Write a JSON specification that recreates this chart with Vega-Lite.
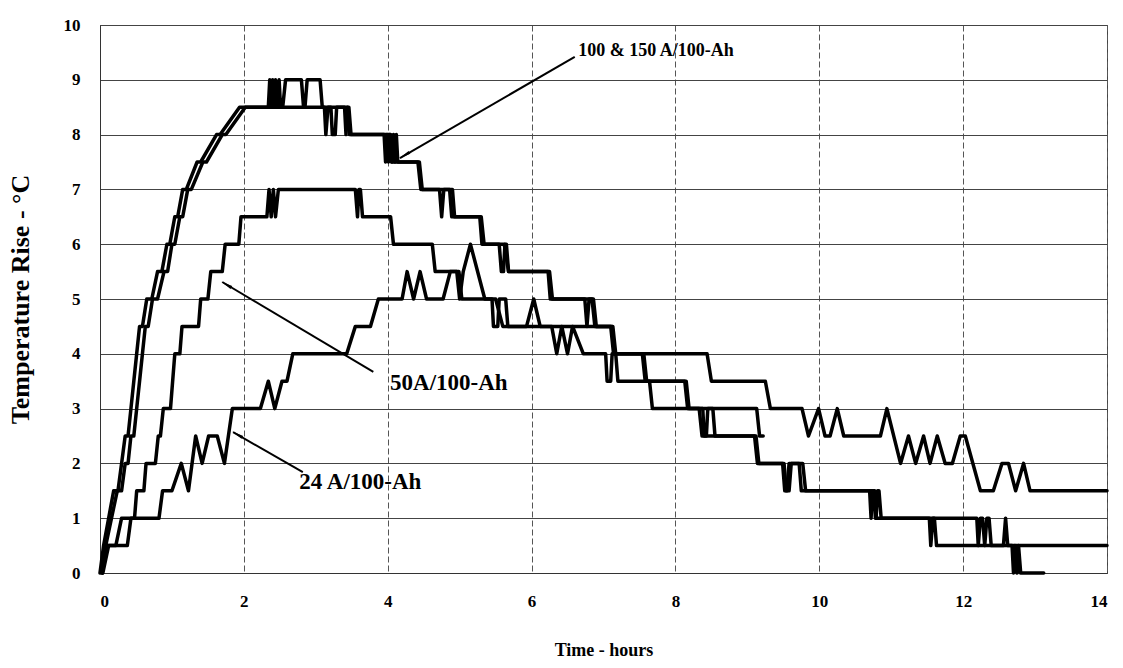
{
  "$schema": "https://vega.github.io/schema/vega-lite/v6.json",
  "width": 1007,
  "height": 548,
  "autosize": {"type": "none"},
  "padding": {"left": 100, "top": 25, "right": 16, "bottom": 95},
  "background": "white",
  "config": {"view": {"stroke": "#444", "strokeWidth": 1}, "font": "Liberation Serif"},
  "datasets": {
    "curves": [
      {"s":"100A","t":0.00,"T":0},{"s":"100A","t":0.05,"T":0.5},{"s":"100A","t":0.12,"T":1},{"s":"100A","t":0.19,"T":1.5},{"s":"100A","t":0.25,"T":1.5},{"s":"100A","t":0.30,"T":2},{"s":"100A","t":0.35,"T":2.5},{"s":"100A","t":0.39,"T":2.5},{"s":"100A","t":0.43,"T":3},{"s":"100A","t":0.47,"T":3.5},{"s":"100A","t":0.51,"T":4},{"s":"100A","t":0.55,"T":4.5},{"s":"100A","t":0.59,"T":4.5},{"s":"100A","t":0.65,"T":5},{"s":"100A","t":0.72,"T":5},{"s":"100A","t":0.80,"T":5.5},{"s":"100A","t":0.86,"T":5.5},{"s":"100A","t":0.93,"T":6},{"s":"100A","t":0.97,"T":6},{"s":"100A","t":1.04,"T":6.5},{"s":"100A","t":1.08,"T":6.5},{"s":"100A","t":1.15,"T":7},{"s":"100A","t":1.20,"T":7},{"s":"100A","t":1.35,"T":7.5},{"s":"100A","t":1.40,"T":7.5},{"s":"100A","t":1.62,"T":8},{"s":"100A","t":1.67,"T":8},{"s":"100A","t":1.94,"T":8.5},{"s":"100A","t":3.44,"T":8.5},{"s":"100A","t":3.47,"T":8},{"s":"100A","t":3.95,"T":8},{"s":"100A","t":3.97,"T":7.5},{"s":"100A","t":3.99,"T":8},{"s":"100A","t":4.01,"T":7.5},{"s":"100A","t":4.03,"T":8},{"s":"100A","t":4.05,"T":7.5},{"s":"100A","t":4.42,"T":7.5},{"s":"100A","t":4.46,"T":7},{"s":"100A","t":4.72,"T":7},{"s":"100A","t":4.75,"T":6.5},{"s":"100A","t":4.78,"T":7},{"s":"100A","t":4.86,"T":7},{"s":"100A","t":4.89,"T":6.5},{"s":"100A","t":5.28,"T":6.5},{"s":"100A","t":5.31,"T":6},{"s":"100A","t":5.55,"T":6},{"s":"100A","t":5.58,"T":5.5},{"s":"100A","t":5.61,"T":5.5},{"s":"100A","t":5.63,"T":6},{"s":"100A","t":5.65,"T":6},{"s":"100A","t":5.68,"T":5.5},{"s":"100A","t":6.23,"T":5.5},{"s":"100A","t":6.26,"T":5},{"s":"100A","t":6.74,"T":5},{"s":"100A","t":6.77,"T":4.5},{"s":"100A","t":6.80,"T":5},{"s":"100A","t":6.84,"T":5},{"s":"100A","t":6.88,"T":4.5},{"s":"100A","t":7.12,"T":4.5},{"s":"100A","t":7.15,"T":4},{"s":"100A","t":7.54,"T":4},{"s":"100A","t":7.58,"T":3.5},{"s":"100A","t":8.13,"T":3.5},{"s":"100A","t":8.17,"T":3},{"s":"100A","t":8.33,"T":3},{"s":"100A","t":8.37,"T":2.5},{"s":"100A","t":9.10,"T":2.5},{"s":"100A","t":9.14,"T":2},{"s":"100A","t":9.49,"T":2},{"s":"100A","t":9.52,"T":1.5},{"s":"100A","t":9.55,"T":1.5},{"s":"100A","t":9.58,"T":2},{"s":"100A","t":9.72,"T":2},{"s":"100A","t":9.75,"T":1.5},{"s":"100A","t":10.70,"T":1.5},{"s":"100A","t":10.72,"T":1},{"s":"100A","t":10.74,"T":1.5},{"s":"100A","t":10.76,"T":1.5},{"s":"100A","t":10.78,"T":1},{"s":"100A","t":11.53,"T":1},{"s":"100A","t":11.55,"T":0.5},{"s":"100A","t":11.58,"T":1},{"s":"100A","t":11.60,"T":1},{"s":"100A","t":11.63,"T":0.5},{"s":"100A","t":14.0,"T":0.5},

      {"s":"150A","t":0.03,"T":0},{"s":"150A","t":0.08,"T":0.5},{"s":"150A","t":0.16,"T":1},{"s":"150A","t":0.24,"T":1.5},{"s":"150A","t":0.30,"T":1.5},{"s":"150A","t":0.35,"T":2},{"s":"150A","t":0.39,"T":2},{"s":"150A","t":0.43,"T":2.5},{"s":"150A","t":0.47,"T":2.5},{"s":"150A","t":0.51,"T":3},{"s":"150A","t":0.55,"T":3.5},{"s":"150A","t":0.59,"T":4},{"s":"150A","t":0.63,"T":4.5},{"s":"150A","t":0.67,"T":4.5},{"s":"150A","t":0.73,"T":5},{"s":"150A","t":0.80,"T":5},{"s":"150A","t":0.89,"T":5.5},{"s":"150A","t":0.94,"T":5.5},{"s":"150A","t":1.00,"T":6},{"s":"150A","t":1.04,"T":6},{"s":"150A","t":1.11,"T":6.5},{"s":"150A","t":1.15,"T":6.5},{"s":"150A","t":1.22,"T":7},{"s":"150A","t":1.27,"T":7},{"s":"150A","t":1.43,"T":7.5},{"s":"150A","t":1.48,"T":7.5},{"s":"150A","t":1.70,"T":8},{"s":"150A","t":1.75,"T":8},{"s":"150A","t":2.02,"T":8.5},{"s":"150A","t":2.34,"T":8.5},{"s":"150A","t":2.36,"T":9},{"s":"150A","t":2.38,"T":8.5},{"s":"150A","t":2.40,"T":9},{"s":"150A","t":2.42,"T":8.5},{"s":"150A","t":2.44,"T":9},{"s":"150A","t":2.46,"T":8.5},{"s":"150A","t":2.49,"T":9},{"s":"150A","t":2.51,"T":8.5},{"s":"150A","t":2.54,"T":8.5},{"s":"150A","t":2.58,"T":9},{"s":"150A","t":2.80,"T":9},{"s":"150A","t":2.83,"T":8.5},{"s":"150A","t":2.85,"T":8.5},{"s":"150A","t":2.88,"T":9},{"s":"150A","t":3.06,"T":9},{"s":"150A","t":3.09,"T":8.5},{"s":"150A","t":3.12,"T":8.5},{"s":"150A","t":3.14,"T":8},{"s":"150A","t":3.17,"T":8.5},{"s":"150A","t":3.21,"T":8.5},{"s":"150A","t":3.23,"T":8},{"s":"150A","t":3.27,"T":8},{"s":"150A","t":3.29,"T":8.5},{"s":"150A","t":3.40,"T":8.5},{"s":"150A","t":3.42,"T":8},{"s":"150A","t":3.44,"T":8.5},{"s":"150A","t":3.46,"T":8.5},{"s":"150A","t":3.49,"T":8},{"s":"150A","t":4.04,"T":8},{"s":"150A","t":4.06,"T":7.5},{"s":"150A","t":4.08,"T":8},{"s":"150A","t":4.10,"T":7.5},{"s":"150A","t":4.12,"T":8},{"s":"150A","t":4.14,"T":7.5},{"s":"150A","t":4.44,"T":7.5},{"s":"150A","t":4.48,"T":7},{"s":"150A","t":4.90,"T":7},{"s":"150A","t":4.93,"T":6.5},{"s":"150A","t":5.30,"T":6.5},{"s":"150A","t":5.34,"T":6},{"s":"150A","t":5.62,"T":6},{"s":"150A","t":5.68,"T":5.5},{"s":"150A","t":6.25,"T":5.5},{"s":"150A","t":6.29,"T":5},{"s":"150A","t":6.86,"T":5},{"s":"150A","t":6.90,"T":4.5},{"s":"150A","t":7.13,"T":4.5},{"s":"150A","t":7.17,"T":4},{"s":"150A","t":7.56,"T":4},{"s":"150A","t":7.60,"T":3.5},{"s":"150A","t":8.15,"T":3.5},{"s":"150A","t":8.19,"T":3},{"s":"150A","t":8.38,"T":3},{"s":"150A","t":8.40,"T":2.5},{"s":"150A","t":8.43,"T":2.5},{"s":"150A","t":8.45,"T":3},{"s":"150A","t":8.52,"T":3},{"s":"150A","t":8.55,"T":2.5},{"s":"150A","t":9.12,"T":2.5},{"s":"150A","t":9.16,"T":2},{"s":"150A","t":9.51,"T":2},{"s":"150A","t":9.54,"T":1.5},{"s":"150A","t":9.58,"T":1.5},{"s":"150A","t":9.61,"T":2},{"s":"150A","t":9.77,"T":2},{"s":"150A","t":9.81,"T":1.5},{"s":"150A","t":10.77,"T":1.5},{"s":"150A","t":10.79,"T":1},{"s":"150A","t":10.81,"T":1.5},{"s":"150A","t":10.83,"T":1.5},{"s":"150A","t":10.86,"T":1},{"s":"150A","t":12.19,"T":1},{"s":"150A","t":12.21,"T":0.5},{"s":"150A","t":12.24,"T":1},{"s":"150A","t":12.27,"T":1},{"s":"150A","t":12.30,"T":0.5},{"s":"150A","t":12.33,"T":1},{"s":"150A","t":12.36,"T":1},{"s":"150A","t":12.39,"T":0.5},{"s":"150A","t":12.56,"T":0.5},{"s":"150A","t":12.59,"T":1},{"s":"150A","t":12.62,"T":0.5},{"s":"150A","t":12.68,"T":0.5},{"s":"150A","t":12.70,"T":0},{"s":"150A","t":12.72,"T":0.5},{"s":"150A","t":12.75,"T":0},{"s":"150A","t":12.77,"T":0.5},{"s":"150A","t":12.80,"T":0},{"s":"150A","t":13.12,"T":0},

      {"s":"50A","t":0.03,"T":0},{"s":"50A","t":0.07,"T":0.5},{"s":"50A","t":0.22,"T":0.5},{"s":"50A","t":0.30,"T":1},{"s":"50A","t":0.48,"T":1},{"s":"50A","t":0.51,"T":1.5},{"s":"50A","t":0.61,"T":1.5},{"s":"50A","t":0.64,"T":2},{"s":"50A","t":0.77,"T":2},{"s":"50A","t":0.81,"T":2.5},{"s":"50A","t":0.84,"T":2.5},{"s":"50A","t":0.88,"T":3},{"s":"50A","t":0.98,"T":3},{"s":"50A","t":1.01,"T":3.5},{"s":"50A","t":1.04,"T":4},{"s":"50A","t":1.11,"T":4},{"s":"50A","t":1.14,"T":4.5},{"s":"50A","t":1.37,"T":4.5},{"s":"50A","t":1.40,"T":5},{"s":"50A","t":1.50,"T":5},{"s":"50A","t":1.54,"T":5.5},{"s":"50A","t":1.70,"T":5.5},{"s":"50A","t":1.74,"T":6},{"s":"50A","t":1.93,"T":6},{"s":"50A","t":1.96,"T":6.5},{"s":"50A","t":2.32,"T":6.5},{"s":"50A","t":2.35,"T":7},{"s":"50A","t":2.38,"T":6.5},{"s":"50A","t":2.41,"T":7},{"s":"50A","t":2.44,"T":6.5},{"s":"50A","t":2.48,"T":7},{"s":"50A","t":3.55,"T":7},{"s":"50A","t":3.58,"T":6.5},{"s":"50A","t":3.60,"T":7},{"s":"50A","t":3.62,"T":7},{"s":"50A","t":3.65,"T":6.5},{"s":"50A","t":4.04,"T":6.5},{"s":"50A","t":4.08,"T":6},{"s":"50A","t":4.62,"T":6},{"s":"50A","t":4.66,"T":5.5},{"s":"50A","t":4.99,"T":5.5},{"s":"50A","t":5.03,"T":5},{"s":"50A","t":5.45,"T":5},{"s":"50A","t":5.47,"T":4.5},{"s":"50A","t":5.53,"T":4.5},{"s":"50A","t":5.55,"T":5},{"s":"50A","t":5.64,"T":5},{"s":"50A","t":5.67,"T":4.5},{"s":"50A","t":7.10,"T":4.5},{"s":"50A","t":7.14,"T":4},{"s":"50A","t":7.17,"T":4},{"s":"50A","t":7.20,"T":3.5},{"s":"50A","t":7.64,"T":3.5},{"s":"50A","t":7.68,"T":3},{"s":"50A","t":9.13,"T":3},{"s":"50A","t":9.17,"T":2.5},{"s":"50A","t":9.22,"T":2.5},

      {"s":"24A","t":0.04,"T":0},{"s":"24A","t":0.12,"T":0.5},{"s":"24A","t":0.38,"T":0.5},{"s":"24A","t":0.43,"T":1},{"s":"24A","t":0.82,"T":1},{"s":"24A","t":0.87,"T":1.5},{"s":"24A","t":1.00,"T":1.5},{"s":"24A","t":1.13,"T":2},{"s":"24A","t":1.23,"T":1.5},{"s":"24A","t":1.33,"T":2.5},{"s":"24A","t":1.42,"T":2},{"s":"24A","t":1.51,"T":2.5},{"s":"24A","t":1.63,"T":2.5},{"s":"24A","t":1.73,"T":2},{"s":"24A","t":1.84,"T":3},{"s":"24A","t":2.23,"T":3},{"s":"24A","t":2.34,"T":3.5},{"s":"24A","t":2.43,"T":3},{"s":"24A","t":2.53,"T":3.5},{"s":"24A","t":2.60,"T":3.5},{"s":"24A","t":2.68,"T":4},{"s":"24A","t":3.43,"T":4},{"s":"24A","t":3.55,"T":4.5},{"s":"24A","t":3.76,"T":4.5},{"s":"24A","t":3.87,"T":5},{"s":"24A","t":4.20,"T":5},{"s":"24A","t":4.27,"T":5.5},{"s":"24A","t":4.36,"T":5},{"s":"24A","t":4.45,"T":5.5},{"s":"24A","t":4.54,"T":5},{"s":"24A","t":4.77,"T":5},{"s":"24A","t":4.87,"T":5.5},{"s":"24A","t":4.96,"T":5.5},{"s":"24A","t":5.00,"T":5},{"s":"24A","t":5.05,"T":5.5},{"s":"24A","t":5.15,"T":6},{"s":"24A","t":5.35,"T":5},{"s":"24A","t":5.50,"T":5},{"s":"24A","t":5.60,"T":4.5},{"s":"24A","t":5.93,"T":4.5},{"s":"24A","t":6.03,"T":5},{"s":"24A","t":6.12,"T":4.5},{"s":"24A","t":6.28,"T":4.5},{"s":"24A","t":6.35,"T":4},{"s":"24A","t":6.42,"T":4.5},{"s":"24A","t":6.50,"T":4},{"s":"24A","t":6.57,"T":4.5},{"s":"24A","t":6.72,"T":4},{"s":"24A","t":7.03,"T":4},{"s":"24A","t":7.05,"T":3.5},{"s":"24A","t":7.10,"T":3.5},{"s":"24A","t":7.12,"T":4},{"s":"24A","t":8.44,"T":4},{"s":"24A","t":8.50,"T":3.5},{"s":"24A","t":9.25,"T":3.5},{"s":"24A","t":9.32,"T":3},{"s":"24A","t":9.76,"T":3},{"s":"24A","t":9.85,"T":2.5},{"s":"24A","t":9.99,"T":3},{"s":"24A","t":10.08,"T":2.5},{"s":"24A","t":10.15,"T":2.5},{"s":"24A","t":10.25,"T":3},{"s":"24A","t":10.34,"T":2.5},{"s":"24A","t":10.85,"T":2.5},{"s":"24A","t":10.94,"T":3},{"s":"24A","t":11.13,"T":2},{"s":"24A","t":11.24,"T":2.5},{"s":"24A","t":11.34,"T":2},{"s":"24A","t":11.45,"T":2.5},{"s":"24A","t":11.54,"T":2},{"s":"24A","t":11.64,"T":2.5},{"s":"24A","t":11.75,"T":2},{"s":"24A","t":11.85,"T":2},{"s":"24A","t":11.96,"T":2.5},{"s":"24A","t":12.03,"T":2.5},{"s":"24A","t":12.24,"T":1.5},{"s":"24A","t":12.42,"T":1.5},{"s":"24A","t":12.54,"T":2},{"s":"24A","t":12.63,"T":2},{"s":"24A","t":12.73,"T":1.5},{"s":"24A","t":12.84,"T":2},{"s":"24A","t":12.93,"T":1.5},{"s":"24A","t":14.0,"T":1.5}
    ],
    "labelTop": [
      {"t": 7.73, "T": 9.53, "label": "100 & 150 A/100-Ah"}
    ],
    "labelsLow": [
      {"t": 4.85, "T": 3.47, "label": "50A/100-Ah"},
      {"t": 3.62, "T": 1.66, "label": "24 A/100-Ah"}
    ],
    "arrows": [
      {"t": 6.6, "T": 9.42, "t2": 4.17, "T2": 7.57},
      {"t": 3.8, "T": 3.67, "t2": 1.70, "T2": 5.31},
      {"t": 2.82, "T": 1.84, "t2": 1.85, "T2": 2.57}
    ],
    "headsA": [{"t": 4.256, "T": 7.64}],
    "headsB": [{"t": 1.78, "T": 5.245}, {"t": 1.933, "T": 2.51}]
  },
  "layer": [
    {
      "data": {"name": "curves"},
      "mark": {"type": "line", "color": "black", "strokeWidth": 3.5, "strokeJoin": "round", "strokeCap": "round"},
      "encoding": {
        "x": {"field": "t", "type": "quantitative",
          "scale": {"domain": [0, 14], "nice": false, "zero": false},
          "axis": {"title": "Time - hours", "values": [0, 2, 4, 6, 8, 10, 12, 14], "format": "d", "grid": true, "gridColor": "#555", "gridDash": [6, 3], "gridWidth": 1, "tickSize": 0, "domainColor": "#333", "labelPadding": 20, "labelFont": "Liberation Serif", "labelFontSize": 17, "labelFontWeight": "bold", "labelColor": "black", "titleFont": "Liberation Serif", "titleFontSize": 18, "titleFontWeight": "bold", "titleColor": "black", "titlePadding": 32}},
        "y": {"field": "T", "type": "quantitative",
          "scale": {"domain": [0, 10], "nice": false},
          "axis": {"title": "Temperature Rise - °C", "values": [0, 1, 2, 3, 4, 5, 6, 7, 8, 9, 10], "format": "d", "grid": true, "gridColor": "#444", "gridWidth": 1, "tickSize": 0, "domainColor": "#333", "labelPadding": 20, "labelFont": "Liberation Serif", "labelFontSize": 17, "labelFontWeight": "bold", "labelColor": "black", "titleFont": "Liberation Serif", "titleFontSize": 26, "titleFontWeight": "bold", "titleColor": "black", "titlePadding": 30}},
        "detail": {"field": "s", "type": "nominal"}
      }
    },
    {
      "data": {"name": "arrows"},
      "mark": {"type": "rule", "color": "black", "strokeWidth": 2},
      "encoding": {
        "x": {"field": "t", "type": "quantitative"},
        "y": {"field": "T", "type": "quantitative"},
        "x2": {"field": "t2"},
        "y2": {"field": "T2"}
      }
    },
    {
      "data": {"name": "headsA"},
      "mark": {"type": "point", "shape": "wedge", "filled": true, "color": "black", "size": 180, "angle": 240, "opacity": 1},
      "encoding": {
        "x": {"field": "t", "type": "quantitative"},
        "y": {"field": "T", "type": "quantitative"}
      }
    },
    {
      "data": {"name": "headsB"},
      "mark": {"type": "point", "shape": "wedge", "filled": true, "color": "black", "size": 180, "angle": 300, "opacity": 1},
      "encoding": {
        "x": {"field": "t", "type": "quantitative"},
        "y": {"field": "T", "type": "quantitative"}
      }
    },
    {
      "data": {"name": "labelTop"},
      "mark": {"type": "text", "font": "Liberation Serif", "fontSize": 18, "fontWeight": "bold", "color": "black", "align": "center", "baseline": "middle"},
      "encoding": {
        "x": {"field": "t", "type": "quantitative"},
        "y": {"field": "T", "type": "quantitative"},
        "text": {"field": "label"}
      }
    },
    {
      "data": {"name": "labelsLow"},
      "mark": {"type": "text", "font": "Liberation Serif", "fontSize": 23, "fontWeight": "bold", "color": "black", "align": "center", "baseline": "middle"},
      "encoding": {
        "x": {"field": "t", "type": "quantitative"},
        "y": {"field": "T", "type": "quantitative"},
        "text": {"field": "label"}
      }
    }
  ]
}
